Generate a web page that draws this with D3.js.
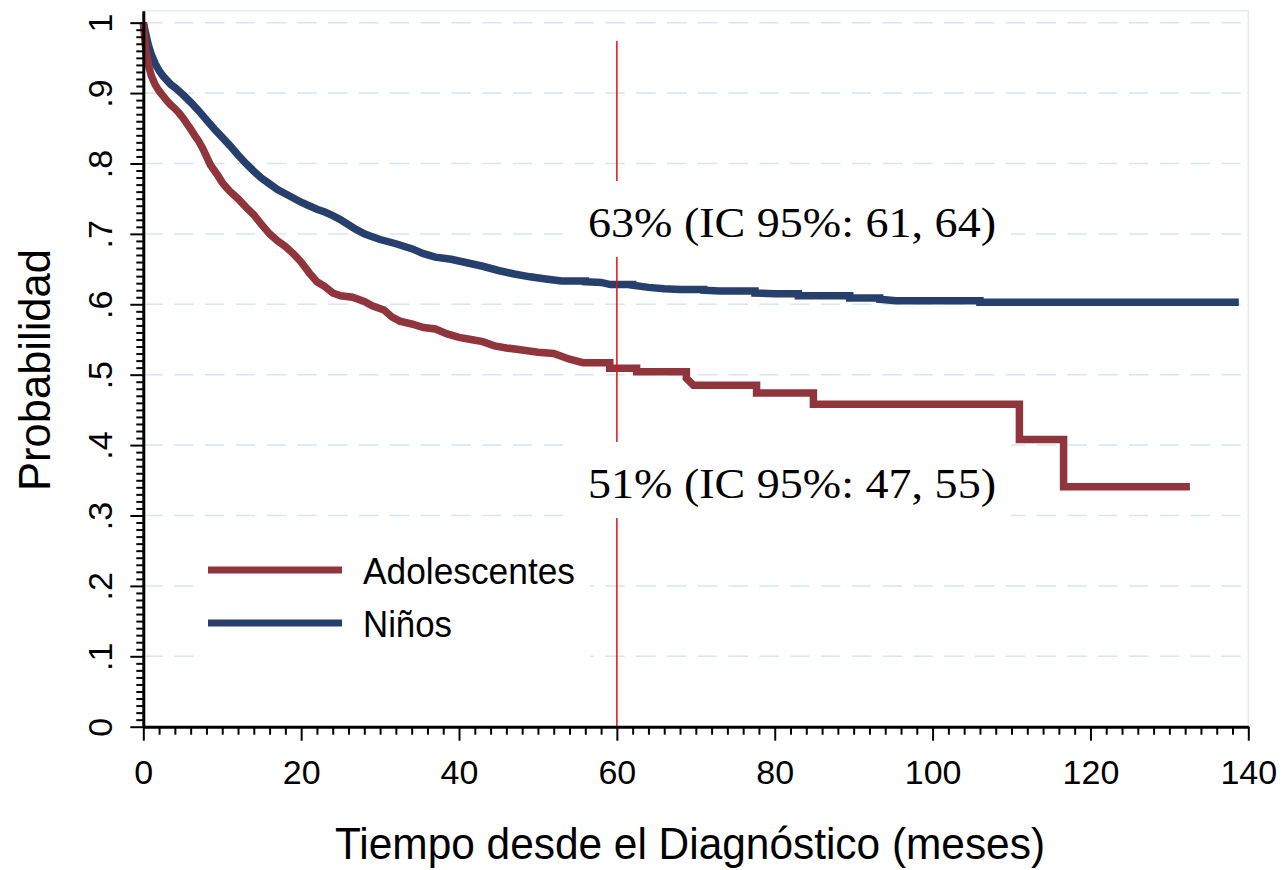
<!DOCTYPE html>
<html>
<head>
<meta charset="utf-8">
<script src="https://cdn.jsdelivr.net/npm/d3@7"></script>
<style>
  html, body { margin: 0; padding: 0; background: #fff; }
  svg { display: block; }
</style>
</head>
<body>
<svg id="chart" width="1284" height="870"></svg>
<script>
// ---------------- DATA ----------------
const seriesNames = ["Adolescentes", "Niños"];
const xTicks = [0, 20, 40, 60, 80, 100, 120, 140];
const xTickLabels = ["0", "20", "40", "60", "80", "100", "120", "140"];
const yTicks = [0, 0.1, 0.2, 0.3, 0.4, 0.5, 0.6, 0.7, 0.8, 0.9, 1];
const yTickLabels = ["0", ".1", ".2", ".3", ".4", ".5", ".6", ".7", ".8", ".9", "1"];

// Niños (Kaplan-Meier estimates)
const ninosTime = [0, 0.3, 0.6, 1.0, 1.5, 2.0, 2.5, 3.0, 3.5, 4.0, 5.0, 6.0, 7.0, 8.0, 9.0, 10.0,
  11.0, 12.0, 13.0, 14.0, 15.0, 16.0, 17.0, 18.0, 19.0, 20.0, 21.0, 22.0, 23.0, 24.0, 25.0, 26.0,
  27.0, 28.0, 29.0, 30.0, 32.0, 34.0, 35.5, 37.0, 39.0, 41.0, 43.0, 45.0, 47.0, 49.0, 51.0, 53.0,
  56.0, 58.0, 59.2, 62.0, 64.0, 66.0, 68.0, 71.0, 73.0, 77.5, 80.0, 83.0, 89.5, 93.3, 95.4, 106.0, 138.8];
const ninosSurv = [1.0, 0.985, 0.97, 0.955, 0.942, 0.932, 0.924, 0.918, 0.912, 0.908, 0.898, 0.887, 0.875, 0.862, 0.849, 0.837,
  0.825, 0.812, 0.800, 0.789, 0.779, 0.771, 0.763, 0.757, 0.751, 0.745, 0.740, 0.735, 0.731, 0.726, 0.720, 0.713,
  0.706, 0.700, 0.696, 0.692, 0.686, 0.679, 0.672, 0.667, 0.664, 0.659, 0.654, 0.648, 0.643, 0.639, 0.636, 0.633,
  0.632, 0.631, 0.628, 0.627, 0.624, 0.622, 0.621, 0.620, 0.619, 0.616, 0.615, 0.612, 0.609, 0.607, 0.605, 0.603, 0.603];

// Adolescentes (Kaplan-Meier estimates)
const adolTime = [0, 0.2, 0.4, 0.7, 1.0, 1.5, 2.0, 2.5, 3.0, 3.5, 4.0, 4.5, 5.0, 5.5, 6.0, 6.5, 7.0, 7.5,
  8.0, 8.5, 9.0, 9.5, 10.0, 10.5, 11.0, 12.0, 13.0, 14.0, 15.0, 16.0, 17.0, 18.0, 19.0, 20.0, 21.0, 22.0,
  23.0, 24.0, 25.0, 26.5, 28.0, 29.0, 30.5, 31.5, 32.5, 34.0, 35.5, 37.0, 38.5, 40.0, 41.5, 43.0, 44.5,
  46.0, 48.0, 50.0, 52.0, 54.0, 55.7, 59.1, 62.5, 68.8, 69.7, 77.7, 84.9, 111.0, 116.6, 132.6];
const adolSurv = [1.0, 0.975, 0.955, 0.938, 0.925, 0.912, 0.903, 0.896, 0.889, 0.883, 0.878, 0.872, 0.865, 0.857, 0.849, 0.840, 0.832, 0.822,
  0.810, 0.798, 0.790, 0.782, 0.773, 0.766, 0.760, 0.750, 0.738, 0.727, 0.713, 0.700, 0.690, 0.682, 0.672, 0.660, 0.645, 0.632,
  0.625, 0.616, 0.612, 0.610, 0.604, 0.598, 0.592, 0.582, 0.576, 0.572, 0.567, 0.565, 0.558, 0.553, 0.550, 0.547, 0.541,
  0.538, 0.535, 0.532, 0.530, 0.522, 0.517, 0.509, 0.504, 0.495, 0.485, 0.474, 0.458, 0.408, 0.341, 0.341];

const markTime = 60;
const annotLabels = ["63% (IC 95%: 61, 64)", "51% (IC 95%: 47, 55)"];
const xTitle = "Tiempo desde el Diagnóstico (meses)";
const yTitle = "Probabilidad";

// ---------------- LAYOUT ----------------
const colors = { "Adolescentes": "#8f353b", "Niños": "#273f6d" };
const sans = "'Liberation Sans', Arial, Helvetica, sans-serif";
const serif = "'Liberation Serif', 'Times New Roman', Times, serif";

const svg = d3.select("#chart");
const x = d3.scaleLinear().domain([0, 140]).range([143.3, 1248.3]);
const y = d3.scaleLinear().domain([0, 1.017]).range([726.7, 10.7]);

// plot region border (light)
svg.append("rect")
  .attr("x", x(0)).attr("y", y(1.017))
  .attr("width", x(140) - x(0)).attr("height", y(0) - y(1.017))
  .attr("fill", "none").attr("stroke", "#e4ecf0").attr("stroke-width", 1.5);

// gridlines
svg.append("g").selectAll("line")
  .data(yTicks.filter(d => d > 0))
  .join("line")
  .attr("x1", x(0)).attr("x2", x(140))
  .attr("y1", d => y(d)).attr("y2", d => y(d))
  .attr("stroke", "#d8e6ee").attr("stroke-width", 1.5)
  .attr("stroke-dasharray", "19.5,11.3");

// Curves: densely sampled stretches (many tiny KM steps) drawn as a continuous
// trace; sparse stretches drawn as explicit steps.
function kmPath(times, surv) {
  const p = d3.path();
  p.moveTo(x(times[0]), y(surv[0]));
  for (let i = 1; i < times.length; i++) {
    if (times[i] - times[i - 1] > 2.5) {
      p.lineTo(x(times[i]), y(surv[i - 1]));
      p.lineTo(x(times[i]), y(surv[i]));
    } else {
      p.lineTo(x(times[i]), y(surv[i]));
    }
  }
  return p.toString();
}
const series = [
  { name: "Niños", t: ninosTime, s: ninosSurv },
  { name: "Adolescentes", t: adolTime, s: adolSurv }
];
svg.append("g").selectAll("path")
  .data(series)
  .join("path")
  .attr("d", d => kmPath(d.t, d.s))
  .attr("fill", "none")
  .attr("stroke", d => colors[d.name])
  .attr("stroke-width", 7.5)
  .attr("stroke-linejoin", "miter");

// vertical reference line at 60 months
svg.append("line")
  .attr("x1", x(markTime)).attr("x2", x(markTime))
  .attr("y1", y(0)).attr("y2", y(0.974))
  .attr("stroke", "#e3101a").attr("stroke-width", 1.5);

// annotation labels with white boxes
const annotBaselines = [237, 498];
annotLabels.forEach((lab, i) => {
  const g = svg.append("g");
  g.append("rect")
    .attr("x", 573).attr("y", annotBaselines[i] - 56)
    .attr("width", 438).attr("height", 76)
    .attr("fill", "#fff");
  g.append("text")
    .attr("x", 588).attr("y", annotBaselines[i])
    .attr("font-family", serif).attr("font-size", 43)
    .attr("textLength", 408).attr("lengthAdjust", "spacingAndGlyphs")
    .attr("fill", "#000")
    .text(lab);
});

// legend
const legend = svg.append("g");
legend.append("rect").attr("x", 194).attr("y", 530).attr("width", 396).attr("height", 148).attr("fill", "#fff");
const legY = [570, 623];
const legTextLen = [212, 89];
seriesNames.forEach((n, i) => {
  legend.append("line")
    .attr("x1", 208).attr("x2", 342)
    .attr("y1", legY[i]).attr("y2", legY[i])
    .attr("stroke", colors[n]).attr("stroke-width", 7);
  legend.append("text")
    .attr("x", 363).attr("y", legY[i] + 14)
    .attr("font-family", sans).attr("font-size", 37)
    .attr("textLength", legTextLen[i]).attr("lengthAdjust", "spacingAndGlyphs")
    .attr("fill", "#000")
    .text(n);
});

// axes
const yMinor = d3.range(0, 101).map(d => d / 100).filter(d => Math.round(d * 100) % 10 !== 0);
const xMinor = d3.range(0, 141, 2).filter(d => d % 20 !== 0);

const yAxisMinor = svg.append("g").attr("transform", `translate(${x(0)},0)`)
  .call(d3.axisLeft(y).tickValues(yMinor).tickSize(7).tickSizeOuter(0).tickFormat(""));
yAxisMinor.select(".domain").remove();
yAxisMinor.selectAll("line").attr("stroke-width", 2);

const yAxis = svg.append("g").attr("transform", `translate(${x(0)},0)`)
  .call(d3.axisLeft(y).tickValues(yTicks).tickSize(13).tickSizeOuter(0)
    .tickFormat((d, i) => yTickLabels[i]));
yAxis.select(".domain").attr("stroke-width", 3);
yAxis.selectAll(".tick line").attr("stroke-width", 2);
yAxis.selectAll(".tick text")
  .attr("x", 0).attr("dy", 0).attr("text-anchor", "middle")
  .attr("transform", "translate(-31.5,0) rotate(-90)")
  .attr("font-family", sans).attr("font-size", 34).attr("fill", "#000");

const xAxisMinor = svg.append("g").attr("transform", `translate(0,${y(0)})`)
  .call(d3.axisBottom(x).tickValues(xMinor).tickSize(8).tickSizeOuter(0).tickFormat(""));
xAxisMinor.select(".domain").remove();
xAxisMinor.selectAll("line").attr("stroke-width", 2);

const xAxis = svg.append("g").attr("transform", `translate(0,${y(0)})`)
  .call(d3.axisBottom(x).tickValues(xTicks).tickSize(14).tickSizeOuter(0)
    .tickFormat((d, i) => xTickLabels[i]));
xAxis.select(".domain").attr("stroke-width", 3);
xAxis.selectAll(".tick line").attr("stroke-width", 2);
xAxis.selectAll(".tick text")
  .attr("y", 57.3).attr("dy", 0)
  .attr("font-family", sans).attr("font-size", 34).attr("fill", "#000");

// axis titles
svg.append("text")
  .attr("x", 690).attr("y", 859)
  .attr("text-anchor", "middle")
  .attr("font-family", sans).attr("font-size", 44)
  .attr("textLength", 710).attr("lengthAdjust", "spacingAndGlyphs")
  .attr("fill", "#000")
  .text(xTitle);

svg.append("text")
  .attr("transform", "translate(50,370) rotate(-90)")
  .attr("text-anchor", "middle")
  .attr("font-family", sans).attr("font-size", 45)
  .attr("textLength", 242).attr("lengthAdjust", "spacingAndGlyphs")
  .attr("fill", "#000")
  .text(yTitle);
</script>
</body>
</html>
